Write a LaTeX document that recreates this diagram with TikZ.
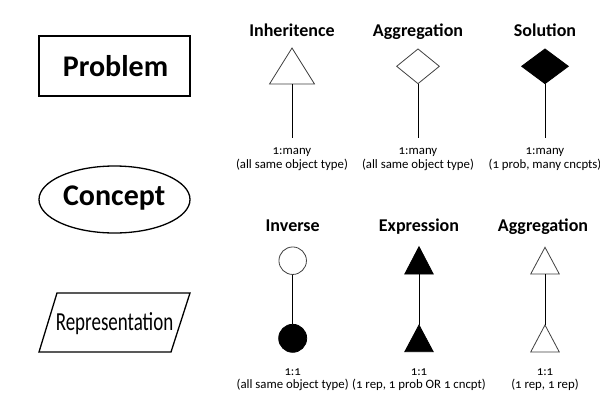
\documentclass[tikz,border=0pt]{standalone}
\usepackage{fontspec}
\usepackage{graphicx}
\setmainfont{Carlito}[Numbers=OldStyle]
\usetikzlibrary{shapes.geometric}
\begin{document}
\begin{tikzpicture}[x=1pt,y=-1pt,
  title/.style={font=\bfseries\fontsize{18}{21}\selectfont, inner sep=0, anchor=base},
  note/.style={font=\fontsize{12.8}{15}\selectfont, inner sep=0, anchor=base},
  big/.style={font=\bfseries\fontsize{30}{34}\selectfont, inner sep=0, anchor=base},
  conn/.style={line width=1pt},
  opentri/.style={draw=black!75, line width=0.8pt, fill=white},
  filltri/.style={draw=black, line width=0.8pt, fill=black},
  shapebox/.style={draw, line width=1.5pt}]
\useasboundingbox (0,0) rectangle (600,400);
% left legend
\node[shapebox, minimum width=151pt, minimum height=60pt] (probbox) at (114.5,66) {};
\node[big] (prob) at (115.5,76.7) {Problem};
\node[ellipse, draw, line width=1.3pt, minimum width=151pt, minimum height=67pt, inner sep=0] (concbox) at (114.5,199.5) {};
\node[big] (conc) at (114.2,205) {Concept};
\draw[line width=1.3pt] (57,293) -- (190,293) -- (171,352) -- (39,352) -- cycle;
\node[inner sep=0, anchor=base] (rep) at (114.5,330) {\scalebox{0.73}[1]{\fontsize{26}{30}\selectfont Representation}};
% top row titles
\node[title] (t1) at (292,36.7) {Inheritence};
\node[title] (t2) at (418,36.7) {Aggregation};
\node[title] (t3) at (545,36.7) {Solution};
% inheritance
\draw[opentri] (292,48) -- (314.5,84) -- (269.5,84) -- cycle;
\coordinate (inhB) at (292,84);
\coordinate (inhE) at (292,138);
\draw[conn] (inhB) -- (inhE);
% aggregation
\node[diamond, draw=black!75, line width=0.8pt, minimum width=43pt, minimum height=35pt, inner sep=0] (agg) at (418,66.3) {};
\coordinate (aggE) at (418,138);
\draw[conn] (agg.south) -- (aggE);
% solution
\node[diamond, draw, fill=black, line width=0.8pt, minimum width=47pt, minimum height=35pt, inner sep=0] (sol) at (545,66.3) {};
\coordinate (solE) at (545,138);
\draw[conn] (sol.south) -- (solE);
% top labels
\node[note] (l1a) at (292,154) {1:many};
\node[note] (l1b) at (292,168.3) {(all same object type)};
\node[note] (l2a) at (418,154) {1:many};
\node[note] (l2b) at (418,168.3) {(all same object type)};
\node[note] (l3a) at (545,154) {1:many};
\node[note] (l3b) at (545,168.3) {(1 prob, many cncpts)};
% bottom row titles
\node[title] (b1) at (292.7,231.7) {Inverse};
\node[title] (b2) at (419,231.7) {Expression};
\node[title] (b3) at (543,231.7) {Aggregation};
% inverse
\node[circle, draw=black!75, line width=0.8pt, minimum size=27.5pt, inner sep=0] (inv1) at (292.7,260.7) {};
\node[circle, draw, fill=black, line width=0.8pt, minimum size=28pt, inner sep=0] (inv2) at (292.7,338.3) {};
\draw[conn] (inv1.south) -- (inv2.north);
% expression
\draw[filltri] (419,246.7) -- (433.2,274) -- (404.8,274) -- cycle;
\draw[filltri] (419,325) -- (433.2,351.7) -- (404.8,351.7) -- cycle;
\coordinate (expB) at (419,274);
\coordinate (expT) at (419,325);
\draw[conn] (expB) -- (expT);
% aggregation 2
\draw[opentri] (545,247.3) -- (559.3,274) -- (530.7,274) -- cycle;
\draw[opentri] (545,325) -- (559.3,352) -- (530.7,352) -- cycle;
\coordinate (ag2B) at (545,274);
\coordinate (ag2T) at (545,325);
\draw[conn] (ag2B) -- (ag2T);
% bottom labels
\node[note] (m1a) at (292.7,375) {1:1};
\node[note] (m1b) at (292.7,388.3) {(all same object type)};
\node[note] (m2a) at (419,375) {1:1};
\node[note] (m2b) at (419,388.3) {(1 rep, 1 prob OR 1 cncpt)};
\node[note] (m3a) at (545,375) {1:1};
\node[note] (m3b) at (545,388.3) {(1 rep, 1 rep)};
\end{tikzpicture}
\end{document}
